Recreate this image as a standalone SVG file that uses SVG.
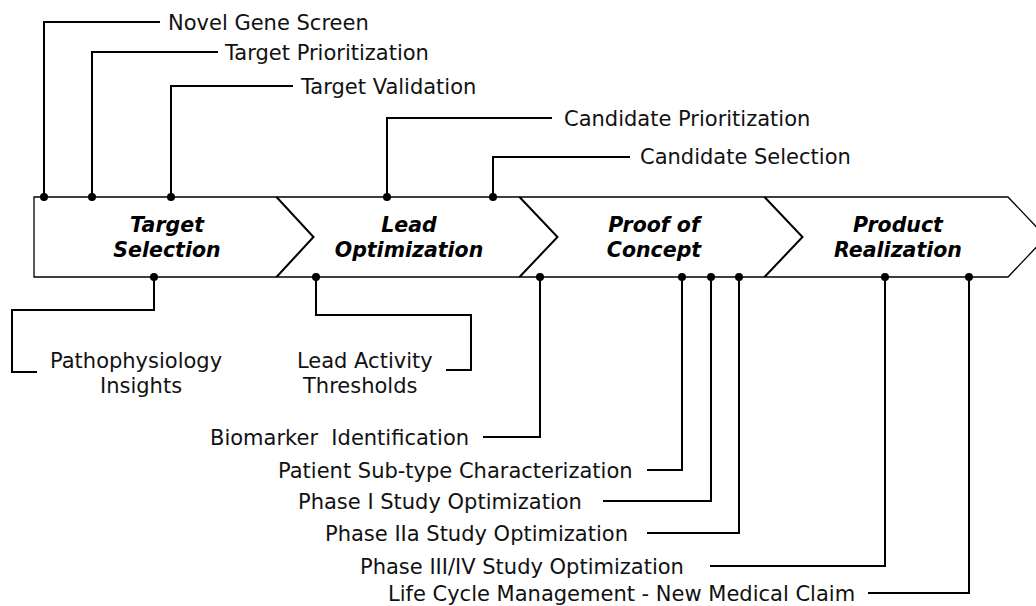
<svg xmlns="http://www.w3.org/2000/svg" width="1036" height="606" viewBox="0 0 1036 606">
<style>
.chev{fill:#fff;stroke:#000;stroke-width:1.3;stroke-linejoin:miter}
.ct{font-family:"DejaVu Sans",Verdana,sans-serif;font-size:20.5px;font-weight:bold;font-style:italic;fill:#000;text-anchor:middle}
.lb{font-family:"DejaVu Sans",Verdana,sans-serif;font-size:21px;fill:#111;white-space:pre}
.cn{fill:none;stroke:#000;stroke-width:2}
.dot{fill:#000}
</style>
<rect width="1036" height="606" fill="#fff"/>
<g id="node-target-selection">
<path class="chev" d="M34,197 H276 L313,237 L276,277 H34 Z"/>
<text class="ct" x="167" y="232">Target</text>
<text class="ct" x="167" y="257">Selection</text>
</g>
<g id="node-lead-optimization">
<path class="chev" d="M277,197 H519 L557,237 L519,277 H277 L314,237 Z"/>
<text class="ct" x="409" y="232">Lead</text>
<text class="ct" x="409" y="257">Optimization</text>
</g>
<g id="node-proof-of-concept">
<path class="chev" d="M520,197 H764 L802,237 L764,277 H520 L558,237 Z"/>
<text class="ct" x="654" y="232">Proof of</text>
<text class="ct" x="654" y="257">Concept</text>
</g>
<g id="node-product-realization">
<path class="chev" d="M765,197 H1008 L1046,237 L1008,277 H765 L803,237 Z"/>
<text class="ct" x="898" y="232">Product</text>
<text class="ct" x="898" y="257">Realization</text>
</g>
<g id="connectors">
<path class="cn" d="M44,197 V22 H160"/>
<path class="cn" d="M92,197 V52 H218"/>
<path class="cn" d="M171,197 V86 H293"/>
<path class="cn" d="M387,197 V118 H552"/>
<path class="cn" d="M493,197 V157 H630"/>
<path class="cn" d="M154,277 V310 H12 V372 H37"/>
<path class="cn" d="M316,277 V315 H471 V370 H446"/>
<path class="cn" d="M540,277 V437 H483"/>
<path class="cn" d="M682,277 V470 H647"/>
<path class="cn" d="M711,277 V501 H603"/>
<path class="cn" d="M739,277 V533 H647"/>
<path class="cn" d="M885,277 V566 H710"/>
<path class="cn" d="M969,277 V593 H868"/>
<circle class="dot" cx="44" cy="197" r="4"/>
<circle class="dot" cx="92" cy="197" r="4"/>
<circle class="dot" cx="171" cy="197" r="4"/>
<circle class="dot" cx="387" cy="197" r="4"/>
<circle class="dot" cx="493" cy="197" r="4"/>
<circle class="dot" cx="154" cy="277" r="4"/>
<circle class="dot" cx="316" cy="277" r="4"/>
<circle class="dot" cx="540" cy="277" r="4"/>
<circle class="dot" cx="682" cy="277" r="4"/>
<circle class="dot" cx="711" cy="277" r="4"/>
<circle class="dot" cx="739" cy="277" r="4"/>
<circle class="dot" cx="885" cy="277" r="4"/>
<circle class="dot" cx="969" cy="277" r="4"/>
</g>
<g id="labels">
<text class="lb" x="168" y="29.5">Novel Gene Screen</text>
<text class="lb" x="225" y="59.5">Target Prioritization</text>
<text class="lb" x="301" y="93.5">Target Validation</text>
<text class="lb" x="564" y="126">Candidate Prioritization</text>
<text class="lb" x="640" y="164">Candidate Selection</text>
<text class="lb" x="50" y="368">Pathophysiology</text>
<text class="lb" x="100" y="393">Insights</text>
<text class="lb" x="297" y="368">Lead Activity</text>
<text class="lb" x="303" y="393">Thresholds</text>
<text class="lb" x="210" y="445" xml:space="preserve">Biomarker  Identification</text>
<text class="lb" x="278" y="478">Patient Sub-type Characterization</text>
<text class="lb" x="298" y="508.5">Phase I Study Optimization</text>
<text class="lb" x="325" y="541">Phase IIa Study Optimization</text>
<text class="lb" x="360" y="574">Phase III/IV Study Optimization</text>
<text class="lb" x="388" y="601">Life Cycle Management - New Medical Claim</text>
</g>
</svg>
